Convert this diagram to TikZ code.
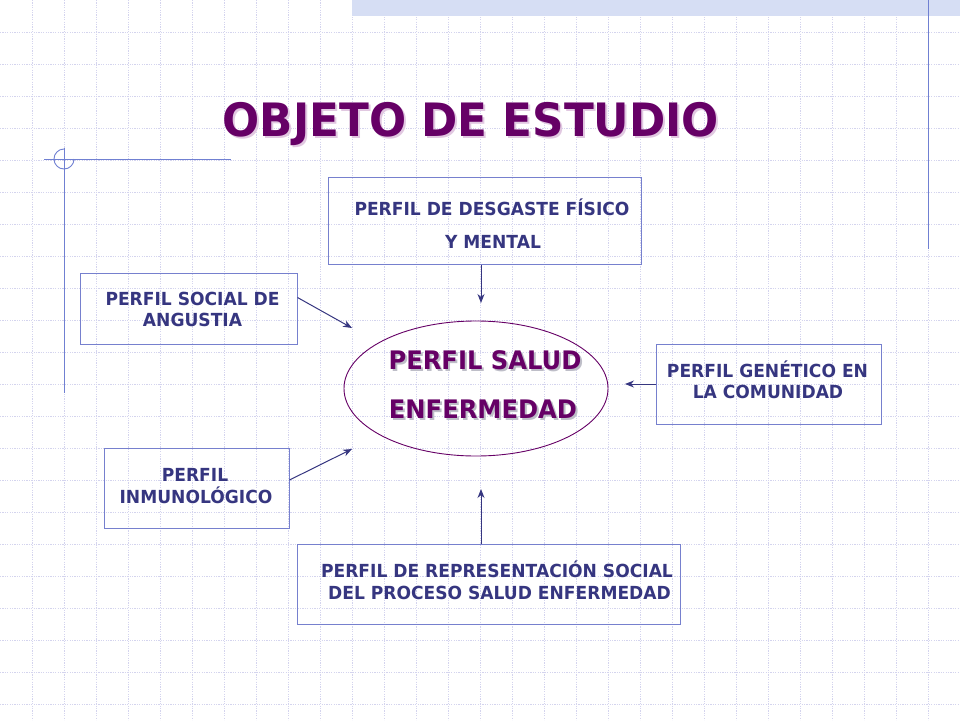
\documentclass[tikz,border=0pt]{standalone}
\usepackage{fontspec}
\setmainfont{DejaVu Sans}[FakeStretch=0.95]
\usetikzlibrary{arrows.meta,shapes.geometric,calc}
\definecolor{gridc}{RGB}{212,212,238}
\definecolor{stripc}{RGB}{214,222,244}
\definecolor{deco}{RGB}{112,128,210}
\definecolor{boxc}{RGB}{118,128,206}
\definecolor{navy}{RGB}{54,54,128}
\definecolor{purp}{RGB}{102,0,102}
\definecolor{shadowc}{RGB}{190,190,200}
\definecolor{tshadowc}{RGB}{225,200,225}
\newcommand\withshadow[2]{\makebox[0pt][l]{\hspace{2pt}\raisebox{-2pt}{\textcolor{#1}{#2}}}#2}
\tikzset{
  pbox/.style={draw=boxc,line width=1pt,rectangle,inner sep=0pt,fill=none},
  btext/.style={anchor=base,inner sep=0pt,text=navy,font=\fontsize{18}{22}\selectfont\bfseries},
  etext/.style={anchor=base,inner sep=0pt,text=purp,font=\fontsize{25.5}{30}\selectfont\bfseries},
  arr/.style={draw=navy,line width=1pt,-{Stealth[length=9pt,width=7pt]}},
  gridline/.style={draw=gridc,line width=0.9pt,dash pattern=on 1.2pt off 1.2pt},
}
\begin{document}
\begin{tikzpicture}[x=1pt,y=-1pt]
\useasboundingbox (0,0) rectangle (960,720);
\fill[white] (0,0) rectangle (960,720);
% grid paper
\foreach \i in {1,...,29} \draw[gridline] (32*\i,0) -- (32*\i,720);
\foreach \j in {1,...,22} \draw[gridline] (0,32*\j) -- (960,32*\j);
% top strip
\fill[stripc] (352,0) rectangle (960,16);
% decorations
\draw[deco,line width=1pt] (928,0) -- (928,249);
\draw[deco,line width=1pt] (44,159) -- (231,159);
\draw[deco,line width=1pt] (64,148) -- (64,393);
\draw[deco,line width=0.9pt] (74,159) arc[start angle=0,end angle=270,radius=10];
% title
\node[anchor=base,inner sep=0pt,text=purp,font=\fontsize{46}{50}\selectfont\bfseries] (title) at (471,136) {\withshadow{tshadowc}{OBJETO DE ESTUDIO}};
% boxes
\node[pbox,minimum width=313pt,minimum height=87pt] (top) at (484.5,220.5) {};
\node[pbox,minimum width=217pt,minimum height=71pt] (lt) at (188.5,308.5) {};
\node[pbox,minimum width=225pt,minimum height=80pt] (rb) at (768.5,384) {};
\node[pbox,minimum width=185pt,minimum height=80pt] (bl) at (196.5,488) {};
\node[pbox,minimum width=383pt,minimum height=80pt] (bb) at (488.5,584) {};
\node[draw=purp,line width=0.9pt,ellipse,inner sep=0pt,minimum width=264pt,minimum height=135pt] (ell) at (476,388.5) {};
% box texts
\node[btext] (top1) at (492,215.5) {PERFIL DE DESGASTE FÍSICO};
\node[btext] (top2) at (493,248.5) {Y MENTAL};
\node[btext] (lt1) at (192.5,305) {PERFIL SOCIAL DE};
\node[btext] (lt2) at (192.5,326) {ANGUSTIA};
\node[btext] (rb1) at (767.5,377) {PERFIL GENÉTICO EN};
\node[btext] (rb2) at (768,398) {LA COMUNIDAD};
\node[btext] (bl1) at (195,481) {PERFIL};
\node[btext] (bl2) at (196,503) {INMUNOLÓGICO};
\node[btext] (bb1) at (497,577) {PERFIL DE REPRESENTACIÓN SOCIAL};
\node[btext] (bb2) at (499.5,599) {DEL PROCESO SALUD ENFERMEDAD};
% ellipse texts
\node[etext] (e1) at (485,369.5) {\withshadow{shadowc}{PERFIL SALUD}};
\node[etext] (e2) at (483,418) {\withshadow{shadowc}{ENFERMEDAD}};
% arrow tips
\coordinate (a1) at (481,303);
\coordinate (a2) at (352,328);
\coordinate (a3) at (625,384);
\coordinate (a4) at (352,449);
\coordinate (a5) at (481,489);
\draw[arr] (top.south -| a1) -- (a1);
\draw[arr] ([yshift=11pt]lt.east) -- (a2);
\draw[arr] (rb.west) -- (a3);
\draw[arr] ([yshift=8pt]bl.east) -- (a4);
\draw[arr] (bb.north -| a5) -- (a5);
\end{tikzpicture}
\end{document}
